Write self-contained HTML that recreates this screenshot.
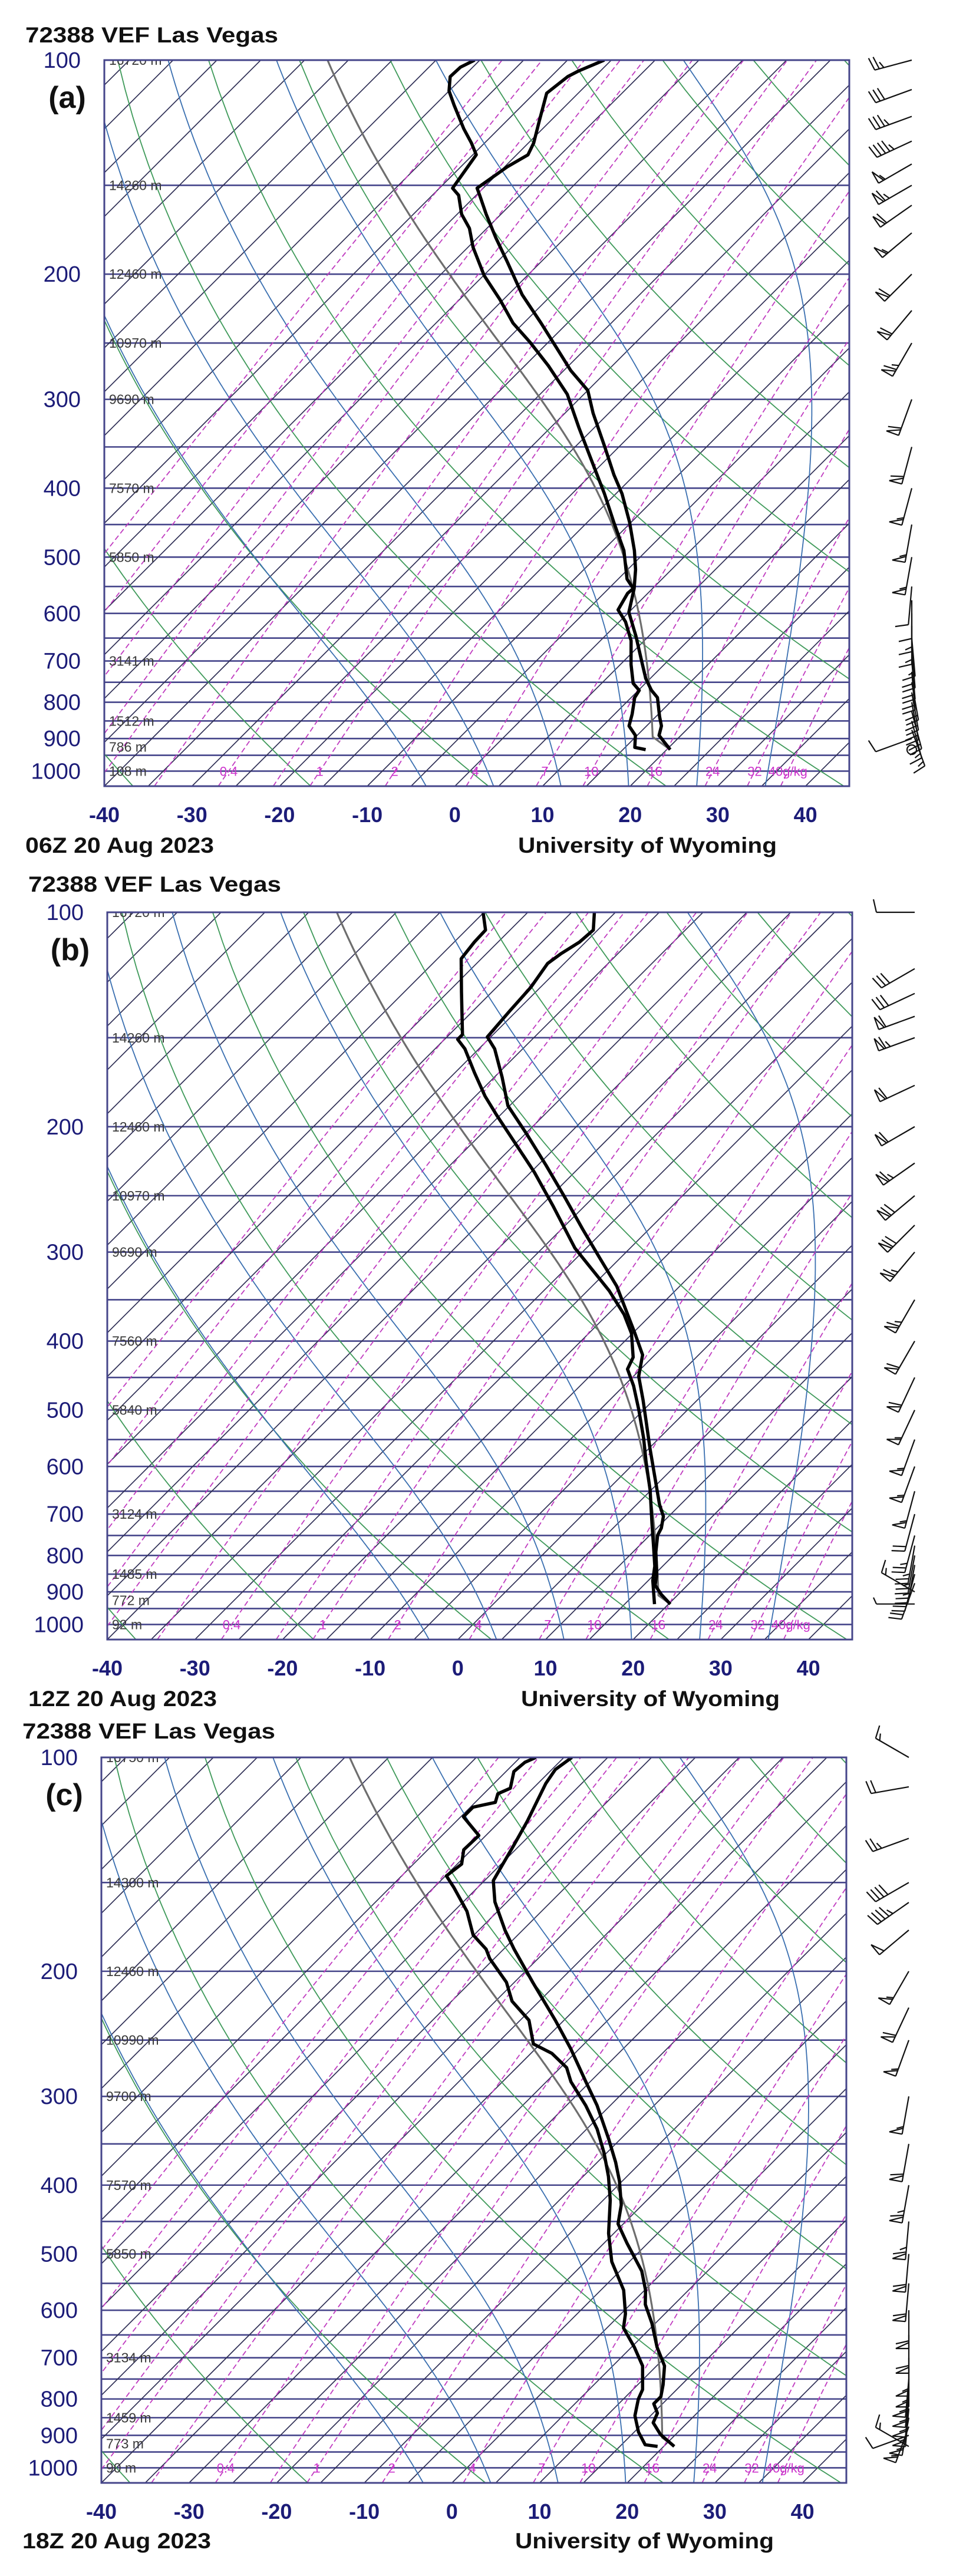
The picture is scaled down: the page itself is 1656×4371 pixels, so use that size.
<!DOCTYPE html>
<html><head><meta charset="utf-8"><title>Skew-T 72388 VEF Las Vegas, 20 Aug 2023</title>
<style>
html,body{margin:0;padding:0;background:#fff;}
svg{display:block;}
text{font-family:"Liberation Sans",sans-serif;}
</style></head>
<body>
<svg id="chart" xmlns="http://www.w3.org/2000/svg" width="1656" height="4371" viewBox="0 0 1656 4371">
<rect x="0" y="0" width="1656" height="4371" fill="#fff"/>
</svg>
<script>
// ---------- data ----------
const pressureTicks = [100,200,300,400,500,600,700,800,900,1000];
const tempTicks = [-40,-30,-20,-10,0,10,20,30,40];
const isobarLevels = [100,150,200,250,300,350,400,450,500,550,600,650,700,750,800,850,900,950,1000,1050];
const mixingValues = [0.01,0.02,0.04,0.07,0.1,0.2,0.4,0.7,1,2,4,7,10,16,24,32,40];
const mixingLabelValues = [0.4,1,2,4,7,10,16,24,32,40];
const mixingLabelText = ['0.4','1','2','4','7','10','16','24','32','40g/kg'];
const dryThetaC = [-40,-20,0,20,40,60,80,100,120,140,160,180];
const moistThetaW = [-6,2,10,18,26,34];
const heightLevels = [100,150,200,250,300,400,500,700,850,925,1000];

const aHeights = ['16720 m','14260 m','12460 m','10970 m','9690 m','7570 m','5850 m','3141 m','1512 m','786 m','108 m'];
const bHeights = ['16720 m','14260 m','12460 m','10970 m','9690 m','7560 m','5840 m','3124 m','1485 m','772 m','92 m'];
const cHeights = ['16750 m','14300 m','12460 m','10990 m','9700 m','7570 m','5850 m','3134 m','1459 m','773 m','90 m'];

const aTempP = [100,103.6,105.5,111.3,121.2,130.8,135.9,141.3,151.4,154.9,164.7,177.8,192,213.8,234.4,253.1,273.3,291.4,313.7,349.3,382.9,407.3,446.5,489.6,520.6,553.6,597.8,645.4,707.8,741,769.9,788,837.8,864,890.8,932.9];
const aTempC = [-65.8,-67.5,-68.1,-68.6,-66.4,-64.4,-63.7,-64.7,-65.7,-64.6,-61.7,-57.9,-53.9,-48.4,-43.0,-38.6,-34.2,-30.0,-26.8,-21.7,-17.4,-14.3,-10.2,-6.4,-4.1,-2.1,0.0,3.5,7.5,9.5,11.5,13.0,15.4,16.7,17.5,20.4];
const aDewP = [100,102.3,105.5,110.5,115.7,124.9,130.8,135.9,141.3,151.4,154.9,164.7,172.4,183.4,201,217.1,234.4,249.3,269.1,295.1,328.5,371.5,407.3,446.5,489.6,536.8,553.6,562.2,593.2,616.4,655.4,707.8,752.4,769.9,788,831.4,864,890.8,926,932.9];
const aDewC = [-80.6,-81.4,-81.5,-80.0,-77.8,-74.0,-71.5,-69.6,-69.2,-68.5,-67.0,-64.5,-62.0,-59.4,-54.9,-50.4,-46.2,-42.1,-37.3,-31.9,-26.8,-20.8,-16.3,-12.0,-7.6,-4.0,-2.2,-2.3,-1.5,0.7,3.5,6.2,8.6,10.1,10.4,12.0,13.0,14.8,16.1,17.6];

const bTempP = [100,105.9,110.1,114.4,118,127.4,137.5,149.6,155.5,170.5,186.9,204.9,226.4,250.2,278.5,305.5,334.9,367.2,390.4,418.3,448.3,484,522.6,564.4,618.8,678.5,705.1,732.3,749.6,791,853.9,880.6,908.1,936.4];
const bTempC = [-67.4,-65.5,-65.7,-66.5,-66.9,-66.1,-65.8,-65.4,-63.2,-59.1,-55.2,-49.8,-44.1,-38.5,-32.6,-27.4,-22.2,-17.7,-14.7,-11.4,-9.4,-6.2,-3.1,0.0,3.8,7.6,9.4,10.5,10.9,12.6,15.4,16.3,18.1,20.2];
const bDewP = [100,105.9,110.1,116.2,129.3,148.5,150.8,155.5,167.9,181.2,192.7,211.3,231.7,258,296.2,319.9,340.1,367.2,390.4,421.6,438,462.3,499.2,547.3,591.1,647.9,721.4,778.9,828.2,867.3,936.4];
const bDewC = [-80.1,-77.8,-77.7,-77.3,-73.5,-68.5,-68.5,-66.6,-62.8,-58.9,-55.4,-50.0,-44.6,-38.7,-31.3,-26.4,-22.5,-18.1,-15.1,-12.2,-11.5,-8.9,-5.6,-1.8,1.2,4.9,8.9,11.8,14.1,15.5,18.4];

const cTempP = [100,104,108.8,115.7,123,132.9,141.3,149.1,159.7,175.1,186.2,207.3,234.4,257,286.1,309,344.1,371.5,395,426.5,453.5,482.6,528.6,562.2,588.8,625.9,676,718.6,764,794,812.4,837.8,864,898,932.9];
const cTempC = [-69.1,-69.6,-69.1,-68.0,-66.9,-65.7,-64.8,-64.0,-61.4,-57.0,-53.8,-47.9,-41.0,-36.0,-30.5,-26.5,-21.4,-17.9,-15.3,-12.4,-10.6,-7.4,-2.5,0.1,1.7,4.6,7.9,10.9,12.9,14.0,14.0,15.5,16.1,18.3,21.2];
const cDewP = [100,101.6,104.7,110.5,112.5,115.7,117.5,121.2,128.8,134.9,141.3,146.8,152.5,164.7,177.8,186.2,192,207.3,220.4,234.4,253.1,261,273.3,286.1,309,333.6,360.3,389,420,467.7,512.7,562.2,607,635.6,676,718.6,775.9,800.1,844.3,890.8,928,932.9];
const cDewC = [-73.2,-73.9,-74.1,-72.6,-73.4,-72.7,-74.7,-74.7,-70.8,-70.9,-69.5,-69.9,-67.7,-63.5,-60.1,-57.0,-55.5,-50.9,-48.1,-44.0,-40.8,-37.6,-34.3,-32.2,-27.8,-23.8,-20.3,-17.1,-14.2,-10.6,-7.0,-2.4,0.5,1.9,5.3,8.4,11.1,11.7,13.2,15.5,17.7,19.3];

const aWindP = [933,900,875,850,825,800,775,750,725,700,675,650,625,600,575,550,500,450,400,350,300,250,225,200,175,160,150,140,130,120,110,100];
const aWindDir = [0,250,160,165,165,170,170,170,175,175,175,175,180,180,180,185,190,190,195,195,200,210,220,225,230,235,240,240,245,250,250,255];
const aWindSpd = [0,10,15,15,20,20,20,20,20,20,20,15,15,15,10,10,55,55,55,60,60,65,60,60,55,60,65,55,45,35,30,25];
const bWindP = [936,900,875,850,825,800,775,750,700,650,600,550,500,450,400,350,300,275,250,225,200,175,150,140,130,120,100];
const bWindDir = [270,300,200,195,190,190,190,195,195,195,200,200,205,205,210,210,220,225,230,235,240,245,250,250,245,240,270];
const bWindSpd = [5,15,20,20,25,25,25,25,20,55,55,55,55,60,60,65,65,70,70,65,60,60,65,60,30,30,10];
const cWindP = [933,900,875,850,825,800,775,750,725,700,650,600,550,500,450,400,350,300,250,225,200,175,160,150,130,110,100];
const cWindDir = [300,250,200,190,185,185,185,185,180,180,180,180,185,185,185,190,190,190,200,205,210,230,235,240,250,260,300];
const cWindSpd = [15,10,55,55,55,55,55,55,55,55,60,60,60,60,65,65,60,55,55,60,55,50,45,40,25,20,15];

// ---------- helpers ----------
const NS = 'http://www.w3.org/2000/svg';
const svg = document.getElementById('chart');
function mk(tag, attrs, parent){
  const el = document.createElementNS(NS, tag);
  for (const k in attrs) el.setAttribute(k, attrs[k]);
  parent.appendChild(el);
  return el;
}
function esat(T){ return 6.112*Math.exp(17.67*T/(T+243.5)); }
function wsat(T,p){ const e=esat(T); return 0.622*e/(p-e); }
function tFromW(w,p){ const e=w*p/(0.622+w); const l=Math.log(e/6.112); return 243.5*l/(17.67-l); }
function moistStep(Tk,p,dp){
  const Rd=287, cp=1005, Lv=2.5e6, eps=0.622;
  const rs = wsat(Tk-273.15,p);
  const f = (Rd*Tk + Lv*rs)/(p*(cp + Lv*Lv*rs*eps/(Rd*Tk*Tk)));
  return f*dp;
}
function moistCurve(T0,p0,pEnd){
  const pts=[[p0,T0]]; let T=T0+273.15, p=p0; const dp = pEnd<p0 ? -2 : 2;
  while ((dp<0 && p>pEnd) || (dp>0 && p<pEnd)) {
    const k1=moistStep(T,p,dp); const k2=moistStep(T+k1/2,p+dp/2,dp);
    T+=k2; p+=dp; pts.push([p,T-273.15]);
  }
  return pts;
}

const panels = [
  {id:'a', top:102, bottom:1334, left:177, titleY:72, dateY:1447, date:'06Z 20 Aug 2023',
   tP:aTempP, tC:aTempC, dP:aDewP, dC:aDewC, heights:aHeights, wP:aWindP, wD:aWindDir, wS:aWindSpd},
  {id:'b', top:1548, bottom:2782, left:182, titleY:1513, dateY:2895, date:'12Z 20 Aug 2023',
   tP:bTempP, tC:bTempC, dP:bDewP, dC:bDewC, heights:bHeights, wP:bWindP, wD:bWindDir, wS:bWindSpd},
  {id:'c', top:2982, bottom:4213, left:172, titleY:2950, dateY:4324, date:'18Z 20 Aug 2023',
   tP:cTempP, tC:cTempC, dP:cDewP, dC:cDewC, heights:cHeights, wP:cWindP, wD:cWindDir, wS:cWindSpd}
];
const W = 1264, SX = W/85;

const defs = mk('defs', {}, svg);

panels.forEach(P => {
  const K = (P.bottom-P.top)/Math.log(10.5);
  const yP = p => P.top + K*Math.log(p/100);
  const xT = (T,p) => P.left + (T+40)*SX + (P.bottom - yP(p));
  const pathOf = pts => pts.map((q,i)=>(i?'L':'M')+xT(q[1],q[0]).toFixed(1)+' '+yP(q[0]).toFixed(1)).join(' ');

  const g = mk('g', {}, svg);
  
  

  const cp = mk('clipPath', {id:'clip'+P.id}, defs);
  mk('rect', {x:P.left, y:P.top, width:W, height:P.bottom-P.top}, cp);

  const plot = mk('g', {'clip-path':'url(#clip'+P.id+')'}, g);
  
  

  // isobars
  isobarLevels.forEach(p => {
    const l = mk('line', {x1:P.left, x2:P.left+W, y1:yP(p), y2:yP(p), stroke:'#45458a', 'stroke-width':2.6}, plot);
    
    
  });
  // isotherms
  for (let T=-170; T<=45; T+=5) {
    const l = mk('line', {x1:xT(T,1050), y1:yP(1050), x2:xT(T,100), y2:yP(100), stroke:'#2f2f55', 'stroke-width':1.7}, plot);
    
    
  }
  // dry adiabats
  dryThetaC.forEach(th => {
    const pts=[]; for (let p=1050; p>=100; p-=10) pts.push([p,(th+273.15)*Math.pow(p/1000,0.2857)-273.15]);
    const el = mk('path', {d:pathOf(pts), fill:'none', stroke:'#3f9a5a', 'stroke-width':1.8}, plot);
    
    
  });
  // moist adiabats
  moistThetaW.forEach(tw => {
    const up = moistCurve(tw,1000,100), dn = moistCurve(tw,1000,1050);
    const pts = dn.reverse().concat(up.slice(1));
    const el = mk('path', {d:pathOf(pts), fill:'none', stroke:'#3a6fb0', 'stroke-width':1.8}, plot);
    
    
  });
  // mixing ratio lines
  mixingValues.forEach(w => {
    const pts=[]; for (let p=1050; p>=100; p-=10) pts.push([p,tFromW(w/1000,p)]);
    const el = mk('path', {d:pathOf(pts), fill:'none', stroke:'#c03cc0', 'stroke-width':1.8, 'stroke-dasharray':'9 5'}, plot);
    
    
  });
  mixingLabelValues.forEach((w,i) => {
    const t = mk('text', {x:xT(tFromW(w/1000,1000),1000), y:yP(1000)+8, 'font-size':22, fill:'#cc33cc', 'text-anchor':'middle'}, plot);
    
    
    t.textContent = mixingLabelText[i];
  });
  // height labels
  heightLevels.forEach((p,i) => {
    const t = mk('text', {x:P.left+8, y:yP(p)+8, 'font-size':23, fill:'#3a3a3a'}, plot);
    
    
    t.textContent = P.heights[i];
  });
  // parcel path (gray)
  {
    const n=P.tP.length; let p=P.tP[n-1], T=P.tC[n-1];
    const w = wsat(P.dC[P.dC.length-1], P.dP[P.dP.length-1]);
    const th = (T+273.15)*Math.pow(1000/p,0.2857);
    const pts=[[p,T]];
    while (p>100) { p-=2; T=th*Math.pow(p/1000,0.2857)-273.15; pts.push([p,T]); if (tFromW(w,p)>=T) break; }
    const m = moistCurve(T,p,100);
    const el = mk('path', {d:pathOf(pts.concat(m.slice(1))), fill:'none', stroke:'#6e6e6e', 'stroke-width':3.2}, plot);
    
    
  }
  // dewpoint & temperature
  const dpts = P.dP.map((p,i)=>[p,P.dC[i]]);
  const dl = mk('path', {d:pathOf(dpts), fill:'none', stroke:'#000', 'stroke-width':5.5, 'stroke-linejoin':'round'}, plot);
  
  
  const tpts = P.tP.map((p,i)=>[p,P.tC[i]]);
  const tl = mk('path', {d:pathOf(tpts), fill:'none', stroke:'#000', 'stroke-width':5.5, 'stroke-linejoin':'round'}, plot);
  
  

  // frame
  const fr = mk('rect', {x:P.left, y:P.top, width:W, height:P.bottom-P.top, fill:'none', stroke:'#45458a', 'stroke-width':3}, g);
  
  

  // pressure axis labels
  pressureTicks.forEach(p => {
    const t = mk('text', {x:P.left-40, y:yP(p)+13, 'font-size':38, fill:'#1c1c78', 'text-anchor':'end'}, g);
    
    
    t.textContent = p;
  });
  // temperature axis labels
  tempTicks.forEach(T => {
    const t = mk('text', {x:P.left+(T+40)*SX, y:P.bottom+61, 'font-size':36, fill:'#1c1c78', 'text-anchor':'middle', 'font-weight':'bold'}, g);
    
    
    t.textContent = T;
  });
  // titles
  const ti = mk('text', {x:P.left-134, y:P.titleY, 'font-size':37, 'font-weight':'bold', fill:'#111', textLength:429, lengthAdjust:'spacingAndGlyphs'}, g);
  
  
  ti.textContent = '72388 VEF Las Vegas';
  const pl = mk('text', {x:P.left-63, y:P.top+81, 'font-size':52, 'font-weight':'bold', fill:'#111', 'text-anchor':'middle'}, g);
  
  
  pl.textContent = '('+P.id+')';
  const dt = mk('text', {x:P.left-134, y:P.dateY, 'font-size':37, 'font-weight':'bold', fill:'#111', textLength:320, lengthAdjust:'spacingAndGlyphs'}, g);
  
  
  dt.textContent = P.date;
  const un = mk('text', {x:P.left+702, y:P.dateY, 'font-size':37, 'font-weight':'bold', fill:'#111', textLength:439, lengthAdjust:'spacingAndGlyphs'}, g);
  
  
  un.textContent = 'University of Wyoming';

  // wind barbs
  const wg = mk('g', {stroke:'#111', 'stroke-width':2.2, fill:'none'}, g);
  
  
  const xb = P.left + 1370;
  P.wP.forEach((p,i) => {
    const y = yP(p), spd = P.wS[i], dir = P.wD[i]*Math.PI/180;
    if (spd < 3) {
      const c = mk('circle', {cx:xb, cy:y, r:8}, wg);
      
      
      return;
    }
    const dx=Math.sin(dir), dy=-Math.cos(dir), px=-dy, py=dx, L=65;
    let d = 'M'+xb+' '+y+' L'+(xb+dx*L).toFixed(1)+' '+(y+dy*L).toFixed(1);
    let s = Math.round(spd/5)*5, pos = L;
    while (s>=50) {
      const bx=xb+dx*pos, by=y+dy*pos;
      d += ' M'+bx.toFixed(1)+' '+by.toFixed(1)+' L'+(bx+px*22).toFixed(1)+' '+(by+py*22).toFixed(1)+' L'+(bx-dx*10).toFixed(1)+' '+(by-dy*10).toFixed(1);
      pos -= 13; s -= 50;
    }
    while (s>=5) {
      const len = s>=10 ? 22 : 11;
      const bx=xb+dx*pos, by=y+dy*pos;
      d += ' M'+bx.toFixed(1)+' '+by.toFixed(1)+' l'+(px*len+dx*5).toFixed(1)+' '+(py*len+dy*5).toFixed(1);
      pos -= 8; s -= (s>=10?10:5);
    }
    const b = mk('path', {d:d}, wg);
    
    
  });
});
</script>
</body></html>
